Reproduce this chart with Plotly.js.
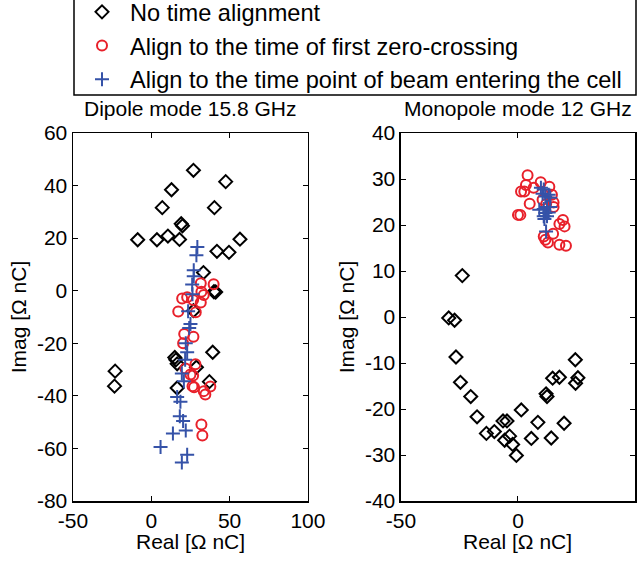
<!DOCTYPE html>
<html><head><meta charset="utf-8">
<script src="https://cdn.plot.ly/plotly-3.0.1.min.js"></script>
<style>html,body{margin:0;padding:0;background:#fff}#chart{width:640px;height:562px}</style>
</head><body><div id="chart"></div>
<script>
// Dipole mode 15.8 GHz
const dipNoAlignRe = [26.9,47.5,12.9,7.0,40.3,19.1,19.9,-8.7,3.6,10.6,18.0,56.6,41.9,49.6,33.3,40.0,41.1,26.9,15.0,15.7,16.5,39.2,28.8,-23.1,-23.5,16.5,37.1];
const dipNoAlignIm = [45.8,41.5,38.4,31.6,31.6,25.5,24.7,19.4,19.4,20.8,19.5,19.6,15.0,14.6,6.9,-0.4,-0.5,-7.6,-25.4,-26.3,-27.8,-23.4,-29.1,-30.6,-36.3,-37.0,-34.6];
const dipZeroRe = [31.6,39.8,32.0,33.5,22.9,19.7,26.7,31.6,17.2,28.4,21.0,26.9,20.3,28.2,21.8,25.0,26.7,26.3,27.3,33.5,34.5,37.7,32.0,32.6];
const dipZeroIm = [2.8,2.5,-0.4,-1.6,-2.5,-3.0,-3.5,-4.5,-7.9,-8.2,-16.5,-17.5,-20.0,-28.0,-29.6,-31.9,-32.3,-36.3,-36.7,-38.2,-39.5,-36.4,-50.9,-55.1];
const dipBeamRe = [29.4,28.8,27.1,27.1,26.1,26.3,23.5,25.0,24.2,22.0,22.9,21.6,19.5,20.8,16.5,18.6,18.2,20.3,22.0,13.8,5.9,22.9,19.5];
const dipBeamIm = [16.6,13.5,7.8,5.5,2.4,-1.3,-7.8,-12.7,-14.2,-20.0,-23.4,-26.3,-31.5,-34.4,-40.4,-42.2,-47.8,-49.6,-53.2,-54.3,-59.5,-62.4,-65.4];
// Monopole mode 12 GHz
const monNoAlignRe = [-23.8,-29.6,-27.1,-26.5,-24.6,-20.2,-17.5,-13.5,-10.1,-6.4,-4.7,-5.7,-3.6,-2.3,-0.7,1.4,5.7,8.5,12.0,12.4,14.2,14.8,17.7,19.7,24.5,24.6,25.6];
const monNoAlignIm = [9.0,-0.2,-0.7,-8.7,-14.2,-17.3,-21.7,-25.3,-24.9,-22.6,-22.6,-26.8,-25.9,-27.7,-30.1,-20.2,-26.4,-22.9,-16.7,-17.3,-26.3,-13.3,-13.1,-23.1,-9.3,-14.4,-13.2];
const monZeroRe = [4.1,3.4,1.3,2.7,6.7,9.7,13.4,14.5,5.0,0.0,1.0,15.2,15.2,19.2,17.7,19.9,11.0,15.0,11.7,12.8,17.7,20.5,10.5,12.0];
const monZeroIm = [30.8,28.7,27.3,27.3,28.1,29.3,28.3,26.6,24.6,22.2,22.2,24.9,23.9,21.1,20.2,19.7,17.5,18.1,16.8,16.2,15.7,15.5,25.5,24.5];
const monBeamRe = [9.8,11.0,10.5,11.7,13.1,13.8,9.1,11.0,12.4,13.8,11.7,13.1,11.0,12.4,11.3,12.0];
const monBeamIm = [28.1,27.7,26.8,26.2,26.6,25.9,23.3,23.5,23.9,23.9,22.6,22.7,21.9,21.9,21.3,18.6];

const seriesNames = ['No time alignment','Align to the time of first zero-crossing','Align to the time point of beam entering the cell'];
const subplotTitles = ['Dipole mode 15.8 GHz','Monopole mode 12 GHz'];
const axisTitleX = 'Real [Ω nC]';
const axisTitleY = 'Imag [Ω nC]';
const dipXTicks = [-50,0,50,100];
const dipXLabels = ['-50','0','50','100'];
const dipYTicks = [-80,-60,-40,-20,0,20,40,60];
const dipYLabels = ['-80','-60','-40','-20','0','20','40','60'];
const monXTicks = [-50,0,50];
const monXLabels = ['-50','0','50'];
const monYTicks = [-40,-30,-20,-10,0,10,20,30,40];
const monYLabels = ['-40','-30','-20','-10','0','10','20','30','40'];

const FONT = 'Liberation Sans, Arial, sans-serif';
const FS = 21;
const styles = [
  {symbol:'diamond-open', color:'#000000', size:10},
  {symbol:'circle-open', color:'#e8202a', size:10},
  {symbol:'cross-thin-open', color:'#3552a8', size:10}
];
function tr(x,y,i,ax,show){
  return {x:x,y:y,type:'scatter',mode:'markers',name:seriesNames[i],showlegend:show,
    xaxis:ax[0],yaxis:ax[1],
    marker:{symbol:styles[i].symbol,size:styles[i].size,color:styles[i].color,line:{color:styles[i].color,width:2}}};
}
const data = [
  tr(dipNoAlignRe,dipNoAlignIm,0,['x','y'],true),
  tr(dipZeroRe,dipZeroIm,1,['x','y'],true),
  tr(dipBeamRe,dipBeamIm,2,['x','y'],true),
  tr(monNoAlignRe,monNoAlignIm,0,['x2','y2'],false),
  tr(monZeroRe,monZeroIm,1,['x2','y2'],false),
  tr(monBeamRe,monBeamIm,2,['x2','y2'],false)
];
const axBase = {showline:true,mirror:'ticks',linecolor:'#000',linewidth:1.5,ticks:'inside',ticklen:5,tickcolor:'#000',tickwidth:1,
  showgrid:false,zeroline:false,tickfont:{family:FONT,size:FS,color:'#000'},tickmode:'array'};
const ttl = (t,s)=>({text:t,font:{family:FONT,size:FS,color:'#000'},standoff:s});
// plot area: x 73..635 px, y 133..501 px
const PW = 562, PH = 368, PL = 73, PB = 501;
const layout = {
  width:640,height:562,paper_bgcolor:'#fff',plot_bgcolor:'#fff',
  margin:{l:73,r:5,t:133,b:61,autoexpand:false},
  font:{family:FONT,color:'#000'},
  xaxis:Object.assign({},axBase,{domain:[0,0.418],range:[-50,100],tickvals:dipXTicks,ticktext:dipXLabels,anchor:'y'}),
  yaxis:Object.assign({},axBase,{range:[-80,60],tickvals:dipYTicks,ticktext:dipYLabels,anchor:'x',title:ttl(axisTitleY,4)}),
  xaxis2:Object.assign({},axBase,{domain:[0.5836,1],range:[-50,50],tickvals:monXTicks,ticktext:monXLabels,anchor:'y2'}),
  yaxis2:Object.assign({},axBase,{range:[-40,40],tickvals:monYTicks,ticktext:monYLabels,anchor:'x2',title:ttl(axisTitleY,4)}),
  showlegend:true,
  legend:{x:(74-PL)/PW,xanchor:'left',y:(PB-102)/PH,yanchor:'bottom',
    borderwidth:0,bgcolor:'rgba(0,0,0,0)',font:{family:FONT,size:23.6,color:'#000'},
    itemwidth:46,traceorder:'normal'},
  shapes:[
    {type:'rect',xref:'paper',yref:'paper',x0:(74-PL)/PW,x1:(636-PL)/PW,y0:(PB-95)/PH,y1:(PB+3)/PH,
     line:{color:'#000',width:1.5},fillcolor:'rgba(0,0,0,0)',layer:'above'}
  ],
  annotations:[
    {text:subplotTitles[0],xref:'x domain',yref:'paper',x:0.5,y:1,yshift:11,yanchor:'bottom',showarrow:false,font:{family:FONT,size:FS,color:'#000'}},
    {text:subplotTitles[1],xref:'x2 domain',yref:'paper',x:0.5,y:1,yshift:11,yanchor:'bottom',showarrow:false,font:{family:FONT,size:FS,color:'#000'}},
    {text:axisTitleX,xref:'x domain',yref:'paper',x:0.5,y:0,yshift:-40,yanchor:'middle',showarrow:false,font:{family:FONT,size:FS,color:'#000'}},
    {text:axisTitleX,xref:'x2 domain',yref:'paper',x:0.5,y:0,yshift:-40,yanchor:'middle',showarrow:false,font:{family:FONT,size:FS,color:'#000'}}
  ]
};
Plotly.newPlot('chart',data,layout,{displayModeBar:false,staticPlot:true});
</script></body></html>
